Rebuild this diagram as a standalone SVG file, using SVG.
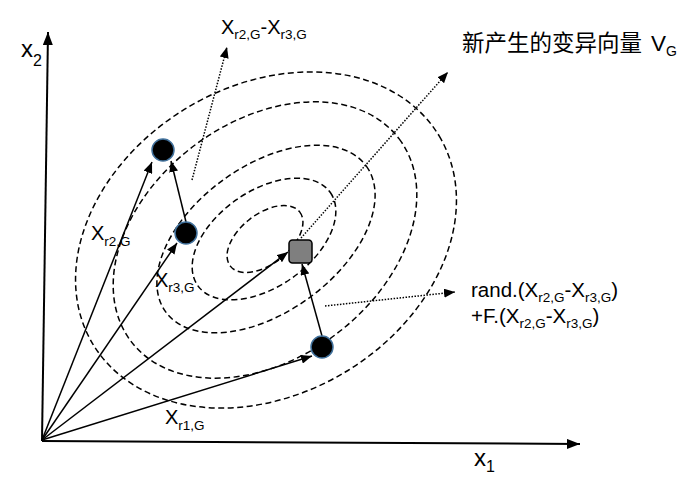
<svg xmlns="http://www.w3.org/2000/svg" width="695" height="488" viewBox="0 0 695 488">
<style>
.t{font-family:"Liberation Sans","Noto Sans CJK SC",sans-serif;fill:#000}
.cjk{font-family:"Noto Sans CJK SC","Liberation Sans",sans-serif;fill:#000}
.contour{fill:none;stroke:#000;stroke-width:1.5;stroke-dasharray:6 3.5}
.arr{fill:none;stroke:#000;stroke-width:1.5;marker-end:url(#ah)}
.dot{fill:none;stroke:#000;stroke-width:1.5;stroke-dasharray:1.5 1.5;marker-end:url(#ah)}
.axis{fill:none;stroke:#000;stroke-width:2;marker-end:url(#axh)}
.pt{fill:#000;stroke:#41719c;stroke-width:1.5}
.s{font-size:13.5px}
</style>
<defs>
<marker id="ah" markerUnits="userSpaceOnUse" markerWidth="11" markerHeight="9" refX="11" refY="4.5" orient="auto"><path d="M0,0 L11,4.5 L0,9 z" fill="#000"/></marker>
<marker id="axh" markerUnits="userSpaceOnUse" markerWidth="13" markerHeight="10" refX="13" refY="5" orient="auto"><path d="M0,0 L13,5 L0,10 z" fill="#000"/></marker>
</defs>
<rect width="695" height="488" fill="#fff"/>
<g id="axes">
<line class="axis" x1="42" y1="441" x2="48" y2="32"/>
<line class="axis" x1="42" y1="441" x2="580" y2="444"/>
</g>
<g id="contours">
<ellipse class="contour" cx="265" cy="239" rx="44" ry="25" transform="rotate(-38 265 239)"/>
<ellipse class="contour" cx="264" cy="239" rx="81" ry="48" transform="rotate(-35 264 239)"/>
<ellipse class="contour" cx="266" cy="239" rx="124" ry="73" transform="rotate(-36 266 239)"/>
<ellipse class="contour" cx="265" cy="240" rx="168" ry="118" transform="rotate(-37 265 240)"/>
<ellipse class="contour" cx="266" cy="240" rx="202" ry="154" transform="rotate(-31 266 240)"/>
</g>
<g id="connectors">
<line class="arr" x1="42" y1="440" x2="152" y2="162"/>
<line class="arr" x1="42" y1="440" x2="177" y2="243"/>
<line class="arr" x1="42" y1="440" x2="288" y2="252"/>
<line class="arr" x1="42" y1="440" x2="312" y2="356"/>
<line class="arr" x1="186" y1="222" x2="171" y2="161"/>
<line class="arr" x1="322" y1="336" x2="302" y2="264"/>
<line class="dot" x1="192" y1="180" x2="227" y2="47"/>
<line class="dot" x1="301" y1="238" x2="448" y2="72"/>
<line class="dot" x1="325" y1="306" x2="455" y2="292"/>
</g>
<g id="node-xr2"><circle class="pt" cx="163" cy="150" r="11"/></g>
<g id="node-xr3"><circle class="pt" cx="186" cy="233" r="11"/></g>
<g id="node-xr1"><circle class="pt" cx="322" cy="347" r="11"/></g>
<g id="node-vg"><rect x="289" y="240" width="23" height="23" rx="3.5" fill="#7f7f7f" stroke="#000" stroke-width="1.5"/></g>
<g id="labels">
<text class="t" x="21" y="57" font-size="24">x<tspan font-size="16" dy="9">2</tspan></text>
<text class="t" x="474" y="466" font-size="24">x<tspan font-size="16" dy="6">1</tspan></text>
<text class="t" x="221" y="34" font-size="20">X<tspan class="s" dy="5">r2,G</tspan><tspan dy="-5">-X</tspan><tspan class="s" dy="5">r3,G</tspan></text>
<text class="cjk" x="462" y="51" font-size="22.5">新产生的变异向量<tspan class="t" x="651">V</tspan><tspan class="t" font-size="14" dy="5">G</tspan></text>
<text class="t" x="471" y="297" font-size="20.5">rand.(X<tspan class="s" dy="5">r2,G</tspan><tspan dy="-5">-X</tspan><tspan class="s" dy="5">r3,G</tspan><tspan dy="-5">)</tspan></text>
<text class="t" x="471" y="323" font-size="20.5">+F.(X<tspan class="s" dy="5">r2,G</tspan><tspan dy="-5">-X</tspan><tspan class="s" dy="5">r3,G</tspan><tspan dy="-5">)</tspan></text>
<text class="t" x="91" y="240" font-size="20">X<tspan class="s" dy="6">r2,G</tspan></text>
<text class="t" x="155" y="287" font-size="20">X<tspan class="s" dy="5">r3,G</tspan></text>
<text class="t" x="165" y="424" font-size="20">X<tspan class="s" dy="6">r1,G</tspan></text>
</g>
</svg>
